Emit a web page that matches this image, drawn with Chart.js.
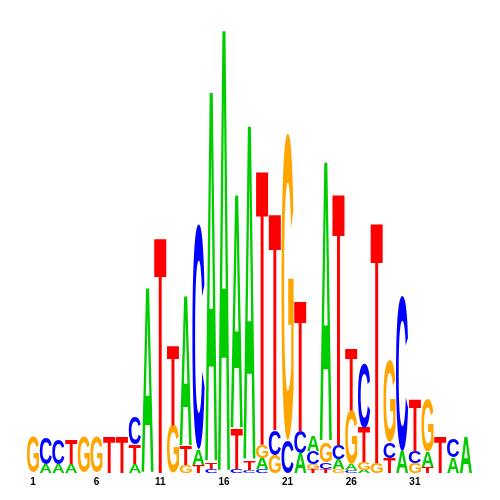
<!DOCTYPE html>
<html>
<head>
<meta charset="utf-8">
<script src="https://cdn.jsdelivr.net/npm/chart.js@4.4.1/dist/chart.umd.min.js"></script>
<style>
  html, body { margin: 0; padding: 0; background: #ffffff; }
  #wrap { width: 500px; height: 500px; }
</style>
</head>
<body>
<div id="wrap"><canvas id="logo" width="500" height="500"></canvas></div>
<script>
// Sequence positions (x categories)
const positions = [1,2,3,4,5,6,7,8,9,10,11,12,13,14,15,16,17,18,19,20,21,22,23,24,25,26,27,28,29,30,31,32,33,34,35];
// Positions that carry a visible tick label
const labelledPositions = [1, 6, 11, 16, 21, 26, 31];

// Letter heights (bits) per position
const letterA = [0, .041, .041, .041, 0, 0, 0, 0, .041, .835, 0, 0, .673, .072, 1.675, 2.0, 1.057, 1.513, .050, 0, 0, .090, .068, 1.264, .045, .027, .014, 0, 0, .099, 0, .068, 0, .072, .163];
const letterC = [0, .117, .113, 0, 0, 0, 0, 0, .126, 0, 0, 0, 0, 1.016, .018, 0, .018, .014, .018, .113, .149, .099, .059, .032, .063, .014, .293, 0, .072, .704, .054, 0, 0, .080, 0];
const letterG = [.163, 0, 0, 0, .163, .163, 0, 0, 0, 0, 0, .217, .036, 0, 0, 0, 0, 0, .059, .081, 1.386, 0, .023, .090, .018, .244, .036, .045, .370, 0, .045, .235, 0, 0, 0];
const letterT = [0, 0, 0, .113, 0, 0, .163, .163, .086, 0, 1.066, .361, .086, .036, .027, 0, .181, .041, 1.242, .980, 0, .591, .018, .018, 1.138, .280, .154, 1.088, .068, 0, .230, .027, .163, 0, 0];

const letters = ['A', 'C', 'G', 'T'];
const letterColors = { A: '#00cc00', C: '#0000ff', G: '#ffa500', T: '#ff0000' };
const heightsByLetter = { A: letterA, C: letterC, G: letterG, T: letterT };

// Build stacked datasets by rank (smallest at bottom, largest on top)
const ranked = [[], [], [], []];
const rankedLetters = [[], [], [], []];
positions.forEach((p, i) => {
  const col = letters.map(L => ({ L, h: heightsByLetter[L][i] }));
  col.sort((a, b) => a.h - b.h);
  col.forEach((c, r) => { ranked[r].push(c.h); rankedLetters[r].push(c.L); });
});

const datasets = ranked.map((data, r) => ({
  label: 'rank' + r,
  data: data,
  letters: rankedLetters[r],
  backgroundColor: 'rgba(0,0,0,0)',
  borderWidth: 0,
  barPercentage: 1,
  categoryPercentage: 1
}));

const glyphPlugin = {
  id: 'glyphs',
  afterDatasetsDraw(chart) {
    const ctx = chart.ctx;
    chart.data.datasets.forEach((ds, di) => {
      const meta = chart.getDatasetMeta(di);
      meta.data.forEach((el, i) => {
        const L = ds.letters[i];
        const top = Math.min(el.y, el.base);
        const h = Math.abs(el.base - el.y);
        if (h < 0.6) return;
        const w = el.width - 0.6;
        ctx.save();
        ctx.font = 'bold 200px "Liberation Sans", Arial, Helvetica, sans-serif';
        ctx.textAlign = 'left';
        ctx.textBaseline = 'alphabetic';
        const m = ctx.measureText(L);
        const gl = m.actualBoundingBoxLeft, gr = m.actualBoundingBoxRight;
        const ga = m.actualBoundingBoxAscent, gd = m.actualBoundingBoxDescent;
        const gw = gl + gr, gh = ga + gd;
        ctx.translate(el.x - w / 2, top);
        ctx.scale(w / gw, h / gh);
        ctx.fillStyle = letterColors[L];
        ctx.fillText(L, gl, ga);
        ctx.restore();
      });
    });
  }
};

const whiteBg = {
  id: 'whiteBg',
  beforeDraw(chart) {
    const c = chart.ctx;
    c.save();
    c.fillStyle = '#ffffff';
    c.fillRect(0, 0, chart.width, chart.height);
    c.restore();
  }
};

new Chart(document.getElementById('logo'), {
  type: 'bar',
  data: { labels: positions.map(String), datasets: datasets },
  options: {
    responsive: false,
    animation: false,
    events: [],
    layout: { padding: { left: 26.6, right: 27.8, top: 30, bottom: 9 } },
    plugins: { legend: { display: false }, tooltip: { enabled: false } },
    scales: {
      x: {
        stacked: true,
        grid: { display: false, drawTicks: false },
        border: { display: false },
        ticks: {
          autoSkip: false,
          maxRotation: 0,
          minRotation: 0,
          padding: 3,
          color: '#000000',
          font: { family: '"Liberation Sans", Arial, sans-serif', size: 10, weight: 'bold' },
          callback: function(value, index) {
            const p = positions[index];
            return labelledPositions.includes(p) ? String(p) : '';
          }
        }
      },
      y: {
        stacked: true,
        display: false,
        min: 0,
        max: 2
      }
    }
  },
  plugins: [whiteBg, glyphPlugin]
});
</script>
</body>
</html>
